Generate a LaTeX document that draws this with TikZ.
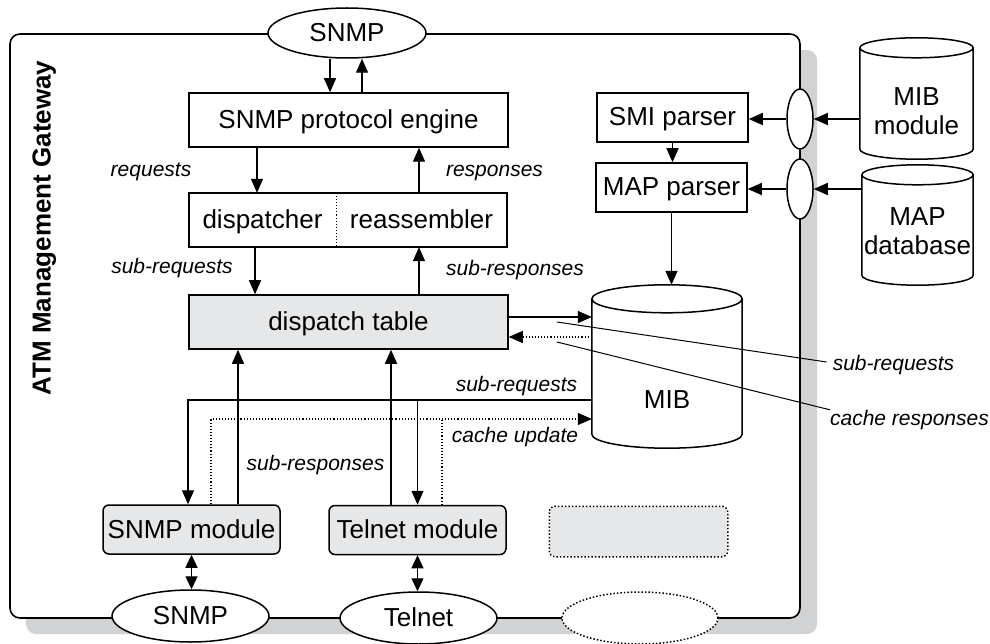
\documentclass[tikz,border=0pt]{standalone}
\usepackage{fontspec}
\setmainfont{Liberation Sans}
\usetikzlibrary{arrows.meta,shapes.geometric,calc}
\definecolor{boxgray}{RGB}{230,231,232}
\definecolor{shadegray}{RGB}{209,210,212}

% cylinder outline round a named node: #1 node, #2 radius of the caps
\newcommand{\drawdb}[2]{%
  \draw[line width=1.5pt, fill=white] let \p1=(#1.north west), \p2=(#1.south east), \n1={(\x2-\x1)/2} in
    ([yshift=-#2]#1.north west) arc[start angle=180, end angle=0, x radius=\n1, y radius=#2]
    -- ([yshift=#2]#1.south east) arc[start angle=0, end angle=-180, x radius=\n1, y radius=#2] -- cycle
    ([yshift=-#2]#1.north west) arc[start angle=180, end angle=360, x radius=\n1, y radius=#2];}

\begin{document}
\begin{tikzpicture}[x=1pt,y=-1pt,
        every node/.style={font=\fontsize{26}{29}\selectfont, inner sep=0pt, text height=22pt, text depth=5pt},
        box/.style={draw, rectangle, line width=1.5pt},
        modbox/.style={box, rounded corners=6pt, fill=boxgray, minimum width=177pt, minimum height=49pt},
        oval/.style={draw, ellipse, fill=white, line width=1.5pt},
        multi/.style={align=center, text height=, text depth=},
        lbl/.style={font=\fontsize{21}{25}\selectfont\itshape, text height=15pt, text depth=5pt},
        arr/.style={line width=1.4pt, -{Triangle[length=14pt,width=12pt]}},
        darr/.style={line width=1.4pt, {Triangle[length=13pt,width=12pt]}-{Triangle[length=13pt,width=12pt]}},
        dotline/.style={line width=1.1pt, dotted}
    ]
        \useasboundingbox (0,0) rectangle (990,644);

        % gateway frame with its shadow
        \fill[shadegray, rounded corners=10pt] (26,50) rectangle (817,634);
        \draw[line width=1.6pt, fill=white, rounded corners=10pt] (10,34) rectangle (800,618);
        \node[rotate=90, font=\fontsize{26}{29}\selectfont\bfseries] (gw) at (42,228) {ATM Management Gateway};

        \node[oval, minimum width=158pt, minimum height=50pt] (snmptop) at (347,33) {SNMP};
        \node[box, minimum width=319pt, minimum height=54pt] (eng) at (348.5,120) {SNMP protocol engine};
        \node[minimum width=147pt, minimum height=54pt] (dsp) at (262.5,220) {dispatcher};
        \node[minimum width=171pt, minimum height=54pt] (rea) at (421.5,220) {reassembler};
        \draw[line width=1.5pt] (dsp.north west) rectangle (rea.south east);
        \draw[dotline] (dsp.north east) -- (dsp.south east);
        \node[box, fill=boxgray, minimum width=319pt, minimum height=54pt] (tab) at (348.5,322) {dispatch table};

        \node[box, minimum width=151pt, minimum height=49pt] (smi) at (672.5,117.5) {SMI parser};
        \node[box, minimum width=151pt, minimum height=49pt] (map) at (671.5,187.5) {MAP parser};
        \node[minimum width=150pt, minimum height=163pt] (mib) at (667,366.5) {};
        \drawdb{mib}{14pt}
        \node (mibtxt) at ([yshift=-33.5pt]mib.center) {MIB};

        \node[oval, minimum width=26pt, minimum height=60pt] (p1) at (800,119) {};
        \node[oval, minimum width=26pt, minimum height=60pt] (p2) at (800,189) {};
        \node[minimum width=113pt, minimum height=121pt] (mibmod) at (916.5,98.5) {};
        \drawdb{mibmod}{10pt}
        \node[multi] (mibmodtxt) at ([yshift=-12.5pt]mibmod.center) {MIB\\module};
        \node[minimum width=111pt, minimum height=120pt] (mapdb) at (917.5,225) {};
        \drawdb{mapdb}{10pt}
        \node[multi] (mapdbtxt) at ([yshift=-6.5pt]mapdb.center) {MAP\\database};

        \node[modbox] (smod) at (191.5,529.5) {SNMP module};
        \node[modbox] (tmod) at (417.5,530) {Telnet module};
        \node[modbox, draw=none] (spare) at (638.5,531.5) {};
        \draw[line width=1.5pt, dotted, rounded corners=6pt] (spare.north west) rectangle (spare.south east);

        \node[oval, minimum width=157pt, minimum height=52pt] (snmpbot) at (190.5,616) {SNMP};
        \node[oval, minimum width=157pt, minimum height=52pt] (telbot) at (418.5,618) {Telnet};
        \node[oval, dotted, minimum width=156pt, minimum height=52pt] (freeoval) at (640,618) {};

        % labels
        \node[lbl] (lreq) at (151,172) {requests};
        \node[lbl] (lres) at (494.5,172) {responses};
        \node[lbl] (lsreq) at (172,268) {sub-requests};
        \node[lbl] (lsres) at (515,271) {sub-responses};
        \node[lbl] (lsreq2) at (516.5,386) {sub-requests};
        \node[lbl] (lcu) at (515,437) {cache update};
        \node[lbl] (lsres2) at (315.5,465) {sub-responses};
        \node[lbl] (lsr) at (893.5,365) {sub-requests};
        \node[lbl] (lcr) at (909.5,420) {cache responses};

        % upper chain
        \draw[arr] ([xshift=-17pt]snmptop.south) -- ([xshift=-17pt]snmptop.south |- eng.north);
        \draw[arr] ([xshift=15pt]snmptop.south |- eng.north) -- ([xshift=15pt]snmptop.south);
        \draw[arr] ([xshift=-5.5pt]dsp.north |- eng.south) -- ([xshift=-5.5pt]dsp.north);
        \draw[arr] ([xshift=-2.5pt]rea.north) -- ([xshift=-2.5pt]rea.north |- eng.south);
        \draw[arr] ([xshift=-7.5pt]dsp.south) -- ([xshift=-7.5pt]dsp.south |- tab.north);
        \draw[arr] ([xshift=-2.5pt]rea.south |- tab.north) -- ([xshift=-2.5pt]rea.south);

        % table and MIB
        \draw[arr] ([yshift=5pt]tab.east) -- ([yshift=5pt]tab.east -| mib.west);
        \draw[dotline, -{Triangle[length=14pt,width=12pt]}] ([yshift=-15pt]tab.east -| mib.west) -- ([yshift=-15pt]tab.east);
        \draw[arr] (smi.south) -- (smi.south |- map.north);
        \draw[arr] (map.south) -- (map.south |- mib.north);
        \draw[arr] (mibmod.west |- p1) -- (p1.east);
        \draw[arr] (p1.west) -- (p1 -| smi.east);
        \draw[arr] (mapdb.west |- p2) -- (p2.east);
        \draw[arr] (p2.west) -- (p2 -| map.east);

        % lower part
        \coordinate (sq) at (0,400);
        \coordinate (cu) at (0,419);
        \draw[arr] (mib.west |- sq) -| ([xshift=-3.5pt]smod.north);
        \draw[arr] (tmod.north |- sq) -- (tmod.north);
        \draw[dotline, -{Triangle[length=14pt,width=12pt]}] ([xshift=19.5pt]smod.north) |- (mib.west |- cu);
        \draw[dotline] ([xshift=24.5pt]tmod.north) -- ([xshift=24.5pt]tmod.north |- cu);
        \draw[arr] ([xshift=46.5pt]smod.north) -- ([xshift=46.5pt]smod.north |- tab.south);
        \draw[arr] ([xshift=-26.5pt]tmod.north) -- ([xshift=-26.5pt]tmod.north |- tab.south);
        \draw[darr] (smod.south) -- (smod.south |- snmpbot.north);
        \draw[darr] (tmod.south) -- (tmod.south |- telbot.north);

        % callouts
        \coordinate (c1) at (557,322);
        \coordinate (c2) at (557,342);
        \draw[line width=1pt] (c1) -- ([xshift=-6pt,yshift=3pt]lsr.west);
        \draw[line width=1pt] (c2) -- (lcr.north west);
\end{tikzpicture}
\end{document}
